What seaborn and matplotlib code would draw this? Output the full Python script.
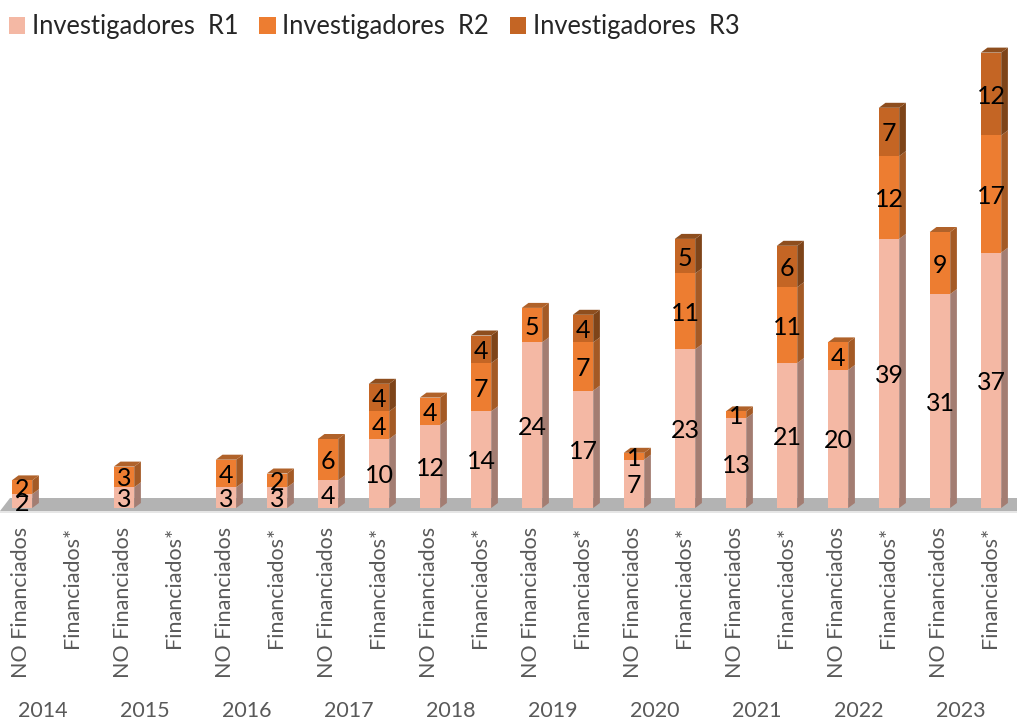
import numpy as np
import pandas as pd
import seaborn as sb
import matplotlib.pyplot as plt
from matplotlib.patches import Polygon
from matplotlib.transforms import ScaledTranslation

YEARS = ['2014', '2015', '2016', '2017', '2018', '2019', '2020', '2021', '2022', '2023']
GROUPS = ['NO Financiados', 'Financiados*']
R1 = [2, 0, 3, 0, 3, 3, 4, 10, 12, 14, 24, 17, 7, 23, 13, 21, 20, 39, 31, 37]
R2 = [2, 0, 3, 0, 4, 2, 6, 4, 4, 7, 5, 7, 1, 11, 1, 11, 4, 12, 9, 17]
R3 = [0, 0, 0, 0, 0, 0, 0, 4, 0, 4, 0, 4, 0, 5, 0, 6, 0, 7, 0, 12]
SERIES = ['Investigadores  R1', 'Investigadores  R2', 'Investigadores  R3']
COLORS = ['#F4B8A4', '#ED7D31', '#C46524']
SIDES = ['#A37D72', '#A45A25', '#7E4419']
TOPS = ['#C99785', '#B0622A', '#8E4E1E']

W, H = 1017, 723
PX_X = 51.0      # px per category
PX_Y = 6.9       # px per researcher
X0, Y0 = 22, 508  # px position of first bar / baseline
AXES_BOTTOM = 515
DX = 6.7 / PX_X
DY = 5 / PX_Y

sb.set_style('white')
plt.rcParams['font.family'] = ['Lato', 'DejaVu Sans']

df = pd.DataFrame({
    'cat': ['{} {}'.format(y, g) for y in YEARS for g in GROUPS],
    'R1': R1, 'R2': R2, 'R3': R3})

fig = plt.figure(figsize=(W / 100, H / 100), dpi=100)
ax = fig.add_axes([0, 1 - AXES_BOTTOM / H, 1, AXES_BOTTOM / H])

bottom = np.zeros(len(df))
stack = [R1, R2, R3]
for it, col in enumerate(['R1', 'R2', 'R3']):
    sb.barplot(data=df, x='cat', y=col, order=list(df['cat']), color=COLORS[it], saturation=1,
               width=0.4, bottom=bottom, label=SERIES[it], ax=ax, zorder=3, linewidth=0, errorbar=None)
    bottom = bottom + np.array(stack[it])

# fake 3D faces
totals = np.array(R1) + np.array(R2) + np.array(R3)
for it, cont in enumerate(ax.containers):
    for i, bar in enumerate(cont):
        h = bar.get_height()
        if h == 0:
            continue
        x0, x1 = bar.get_x(), bar.get_x() + bar.get_width()
        y0, y1 = bar.get_y(), bar.get_y() + h
        ax.add_patch(Polygon([(x1, y0), (x1 + DX, y0 + DY), (x1 + DX, y1 + DY), (x1, y1)],
                             fc=SIDES[it], ec='none', zorder=2.5))
        if y1 == totals[i]:
            ax.add_patch(Polygon([(x0, y1), (x0 + DX, y1 + DY), (x1 + DX, y1 + DY), (x1, y1)],
                                 fc=TOPS[it], ec='none', zorder=2.5))
    vals = stack[it]
    texts = ax.bar_label(cont, labels=[str(v) if v else '' for v in vals], label_type='center',
                         fontsize=18, color='black', zorder=5)
    for t in texts:
        t.set_va('center_baseline')

xlim = (-X0 / PX_X, (W - X0) / PX_X)
ax.set_xlim(xlim)
ax.set_ylim(-(AXES_BOTTOM - Y0) / PX_Y, Y0 / PX_Y)

# floor
ax.add_patch(Polygon([(xlim[0], -3 / PX_Y), (xlim[0] + 10 / PX_X, 10 / PX_Y),
                      (xlim[1], 10 / PX_Y), (xlim[1], -3 / PX_Y)], fc='#B3B3B3', ec='none', zorder=1))
ax.axhline(-3.6 / PX_Y, color='#E2E2E2', lw=1.2, zorder=1)

ax.set_xticks(range(len(df)))
ax.set_xticklabels(GROUPS * len(YEARS), rotation=90, fontsize=15.5, color='#595959', va='top', ha='center')
ax.tick_params(axis='x', length=0, pad=8.5, bottom=False)
shift = ScaledTranslation(-1.2 / 100, 0, fig.dpi_scale_trans)
for lab in ax.get_xticklabels():
    lab.set_transform(lab.get_transform() + shift)
ax.set_yticks([])
ax.set_xlabel('')
ax.set_ylabel('')
ax.grid(False)
for s in ax.spines.values():
    s.set_visible(False)
ax.patch.set_alpha(0)

for it, y in enumerate(YEARS):
    ax.text(2 * it + 0.41, -(711 - AXES_BOTTOM) / AXES_BOTTOM, y, transform=ax.get_xaxis_transform(),
            ha='center', va='center', fontsize=15.5, color='#595959')

ax.legend(loc='upper left', bbox_to_anchor=(0, 1 - 5.5 / AXES_BOTTOM), ncols=3, frameon=False, fontsize=18.4,
          handlelength=0.63, handleheight=0.63, handletextpad=0.27, columnspacing=0.82,
          borderaxespad=0.1, borderpad=0.25)

plt.savefig('out.png', dpi=100)
